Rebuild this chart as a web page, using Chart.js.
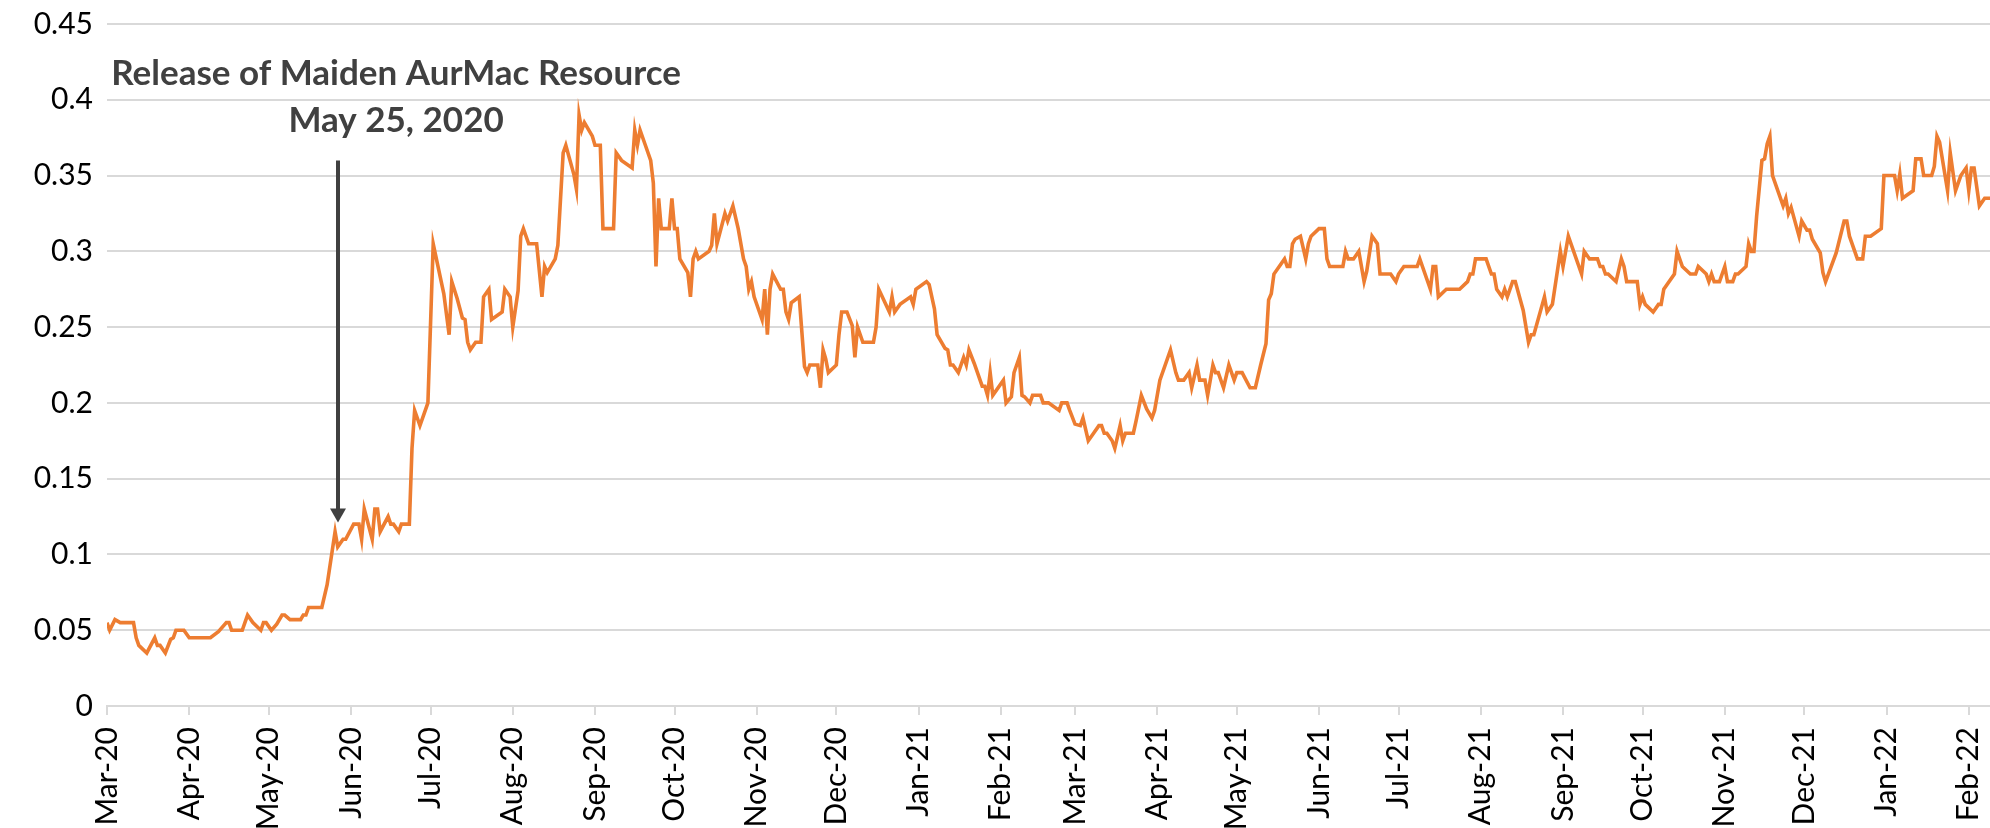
<!DOCTYPE html>
<html lang="en">
<head>
  <meta charset="UTF-8" />
  <title>AurMac share price</title>
  <script src="https://cdn.jsdelivr.net/npm/chart.js"></script>
  <style>
    body { margin: 0; background: #fff; }
    canvas { display: block; }
  </style>
</head>
<body>
  <canvas id="priceChart" width="1990" height="828"></canvas>

  <script>
    // days since 1 Mar 2020
    const days = [
      0, 1, 3, 5, 10, 11, 12, 15, 18, 19, 20, 22, 24, 25, 26, 29, 31, 39, 42, 45,
      46, 47, 51, 52, 53, 55, 58, 59, 60, 62, 64, 66, 67, 69, 73, 74, 75, 76, 81, 83,
      86, 87, 89, 90, 93, 95, 96, 97, 100, 101, 102, 103, 106, 107, 108, 110, 111, 114, 115, 116,
      118, 121, 123, 127, 129, 130, 132, 134, 135, 136, 137, 139, 141, 142, 144, 145, 149, 150, 152, 153,
      155, 156, 157, 159, 162, 164, 165, 166, 169, 170, 172, 173, 176, 177, 178, 179, 180, 183, 184, 186,
      187, 191, 192, 194, 198, 199, 200, 201, 203, 205, 206, 207, 208, 209, 212, 213, 214, 215, 216, 219,
      220, 221, 222, 223, 227, 228, 229, 230, 233, 234, 236, 238, 240, 241, 242, 243, 244, 247, 248, 249,
      250, 251, 254, 255, 256, 257, 258, 261, 263, 264, 265, 268, 269, 270, 271, 272, 275, 276, 277, 279,
      281, 282, 283, 285, 289, 290, 291, 295, 296, 297, 299, 303, 304, 305, 309, 310, 312, 313, 316, 317,
      318, 319, 321, 323, 324, 325, 327, 330, 331, 332, 333, 334, 338, 339, 341, 342, 343, 344, 345, 346,
      348, 349, 352, 353, 355, 359, 360, 362, 363, 365, 367, 368, 370, 372, 374, 375, 376, 377, 379, 380,
      382, 383, 384, 387, 388, 390, 392, 394, 395, 397, 401, 403, 404, 406, 408, 409, 411, 412, 414, 415,
      417, 418, 419, 421, 423, 425, 426, 428, 431, 433, 435, 437, 438, 439, 440, 442, 444, 445, 446, 447,
      448, 450, 452, 453, 454, 457, 459, 460, 461, 466, 467, 468, 470, 472, 474, 475, 477, 479, 480, 484,
      486, 487, 489, 494, 495, 499, 500, 501, 502, 505, 510, 513, 514, 515, 516, 520, 522, 523, 524, 526,
      527, 528, 530, 531, 534, 536, 537, 538, 542, 543, 545, 548, 549, 551, 556, 557, 559, 562, 563, 564,
      565, 566, 569, 571, 572, 573, 577, 578, 579, 580, 583, 585, 586, 587, 591, 592, 594, 597, 599, 600,
      603, 604, 605, 606, 608, 610, 611, 613, 614, 615, 618, 619, 620, 621, 622, 624, 625, 626, 627, 628,
      632, 633, 634, 635, 638, 639, 641, 642, 643, 646, 647, 648, 652, 655, 656, 657, 660, 662, 663, 665,
      669, 670, 674, 675, 676, 677, 681, 682, 684, 685, 688, 689, 690, 691, 694, 695, 697, 699, 701, 702,
      703, 704, 706, 708, 710
    ];

    const prices = [
      0.055, 0.050, 0.057, 0.055, 0.055, 0.045, 0.040, 0.035, 0.045, 0.040, 0.040, 0.035, 0.044, 0.045, 0.050, 0.050, 0.045, 0.045, 0.049, 0.055,
      0.055, 0.050, 0.050, 0.055, 0.060, 0.055, 0.050, 0.055, 0.055, 0.050, 0.054, 0.060, 0.060, 0.057, 0.057, 0.060, 0.060, 0.065, 0.065, 0.080,
      0.115, 0.105, 0.110, 0.110, 0.120, 0.120, 0.110, 0.130, 0.110, 0.130, 0.130, 0.115, 0.125, 0.120, 0.120, 0.115, 0.120, 0.120, 0.170, 0.195,
      0.185, 0.200, 0.305, 0.272, 0.245, 0.280, 0.269, 0.256, 0.255, 0.240, 0.235, 0.240, 0.240, 0.270, 0.275, 0.255, 0.260, 0.275, 0.270, 0.250,
      0.274, 0.310, 0.315, 0.305, 0.305, 0.270, 0.290, 0.286, 0.295, 0.304, 0.365, 0.370, 0.351, 0.341, 0.390, 0.380, 0.385, 0.376, 0.370, 0.370,
      0.315, 0.315, 0.365, 0.360, 0.355, 0.380, 0.370, 0.380, 0.370, 0.360, 0.345, 0.290, 0.335, 0.315, 0.315, 0.335, 0.315, 0.315, 0.295, 0.286,
      0.270, 0.295, 0.300, 0.295, 0.300, 0.304, 0.325, 0.305, 0.325, 0.320, 0.330, 0.315, 0.295, 0.290, 0.275, 0.280, 0.270, 0.255, 0.275, 0.245,
      0.275, 0.285, 0.275, 0.275, 0.260, 0.255, 0.266, 0.270, 0.224, 0.220, 0.225, 0.225, 0.210, 0.235, 0.229, 0.220, 0.225, 0.245, 0.260, 0.260,
      0.251, 0.230, 0.250, 0.240, 0.240, 0.250, 0.275, 0.260, 0.270, 0.260, 0.265, 0.270, 0.265, 0.275, 0.280, 0.278, 0.262, 0.245, 0.236, 0.235,
      0.225, 0.225, 0.220, 0.230, 0.225, 0.235, 0.226, 0.211, 0.211, 0.205, 0.220, 0.205, 0.215, 0.200, 0.204, 0.220, 0.225, 0.230, 0.205, 0.204,
      0.200, 0.205, 0.205, 0.200, 0.200, 0.195, 0.200, 0.200, 0.195, 0.186, 0.185, 0.190, 0.175, 0.180, 0.185, 0.185, 0.180, 0.180, 0.175, 0.170,
      0.185, 0.175, 0.180, 0.180, 0.188, 0.205, 0.196, 0.190, 0.195, 0.215, 0.235, 0.220, 0.215, 0.215, 0.220, 0.210, 0.225, 0.215, 0.215, 0.205,
      0.225, 0.220, 0.220, 0.210, 0.225, 0.215, 0.220, 0.220, 0.210, 0.210, 0.225, 0.239, 0.268, 0.272, 0.285, 0.290, 0.295, 0.290, 0.290, 0.305,
      0.308, 0.310, 0.295, 0.305, 0.310, 0.315, 0.315, 0.295, 0.290, 0.290, 0.300, 0.295, 0.295, 0.300, 0.280, 0.287, 0.310, 0.305, 0.285, 0.285,
      0.280, 0.285, 0.290, 0.290, 0.295, 0.275, 0.290, 0.290, 0.270, 0.275, 0.275, 0.280, 0.285, 0.285, 0.295, 0.295, 0.285, 0.285, 0.275, 0.270,
      0.275, 0.270, 0.280, 0.280, 0.261, 0.240, 0.245, 0.245, 0.270, 0.260, 0.265, 0.300, 0.290, 0.310, 0.285, 0.300, 0.295, 0.295, 0.290, 0.290,
      0.285, 0.285, 0.280, 0.295, 0.290, 0.280, 0.280, 0.265, 0.270, 0.265, 0.260, 0.265, 0.265, 0.275, 0.285, 0.300, 0.290, 0.285, 0.285, 0.290,
      0.285, 0.280, 0.285, 0.280, 0.280, 0.290, 0.280, 0.280, 0.285, 0.285, 0.290, 0.305, 0.300, 0.300, 0.323, 0.360, 0.361, 0.371, 0.376, 0.350,
      0.330, 0.335, 0.325, 0.329, 0.310, 0.320, 0.314, 0.314, 0.308, 0.299, 0.286, 0.280, 0.299, 0.320, 0.320, 0.310, 0.295, 0.295, 0.310, 0.310,
      0.315, 0.350, 0.350, 0.340, 0.351, 0.335, 0.340, 0.361, 0.361, 0.350, 0.350, 0.356, 0.376, 0.372, 0.340, 0.365, 0.340, 0.350, 0.355, 0.340,
      0.355, 0.355, 0.330, 0.335, 0.335
    ];

    const monthLabels = [
      'Mar-20', 'Apr-20', 'May-20', 'Jun-20', 'Jul-20', 'Aug-20', 'Sep-20', 'Oct-20', 'Nov-20', 'Dec-20', 'Jan-21', 'Feb-21',
      'Mar-21', 'Apr-21', 'May-21', 'Jun-21', 'Jul-21', 'Aug-21', 'Sep-21', 'Oct-21', 'Nov-21', 'Dec-21', 'Jan-22', 'Feb-22'
    ];
    const yTickLabels = ['0', '0.05', '0.1', '0.15', '0.2', '0.25', '0.3', '0.35', '0.4', '0.45'];

    const noteLines = ['Release of Maiden AurMac Resource', 'May 25, 2020'];
    const arrowDay = 87;

    // first day of every month, as an offset from 1 Mar 2020
    const monthDays = monthLabels.map((m, i) => (Date.UTC(2020, 2 + i, 1) - Date.UTC(2020, 2, 1)) / 86400000);

    const points = days.map((d, i) => ({ x: d, y: prices[i] }));

    const notePlugin = {
      id: 'note',
      afterDatasetsDraw(chart) {
        const c = chart.ctx;
        const xs = chart.scales.x;
        const ys = chart.scales.y;

        c.save();
        c.fillStyle = '#404040';
        c.strokeStyle = '#404040';
        c.font = 'bold 35px Lato';
        c.textAlign = 'center';
        c.textBaseline = 'alphabetic';
        c.fillText(noteLines[0], xs.getPixelForValue(109), ys.getPixelForValue(0.41));
        c.fillText(noteLines[1], xs.getPixelForValue(109), ys.getPixelForValue(0.379));

        const ax = Math.round(xs.getPixelForValue(arrowDay));
        const top = ys.getPixelForValue(0.36);
        const tip = ys.getPixelForValue(0.121);
        c.lineWidth = 4;
        c.beginPath();
        c.moveTo(ax, top);
        c.lineTo(ax, tip - 12);
        c.stroke();
        c.beginPath();
        c.moveTo(ax - 8, tip - 14);
        c.lineTo(ax + 8, tip - 14);
        c.lineTo(ax, tip);
        c.closePath();
        c.fill();
        c.restore();
      }
    };

    new Chart(document.getElementById('priceChart'), {
      type: 'line',
      data: {
        datasets: [{
          data: points,
          borderColor: '#ED7D31',
          borderWidth: 3.6,
          pointRadius: 0,
          tension: 0,
          fill: false
        }]
      },
      options: {
        responsive: false,
        devicePixelRatio: 1,
        animation: false,
        layout: { padding: { top: 24, right: 0, bottom: 0, left: 0 } },
        plugins: {
          legend: { display: false },
          tooltip: { enabled: false }
        },
        scales: {
          x: {
            type: 'linear',
            min: 0,
            max: 710,
            afterBuildTicks: (scale) => {
              scale.ticks = monthDays.map(v => ({ value: v }));
            },
            afterFit: (scale) => {
              scale.height = 122;
              scale.paddingLeft = 0;
              scale.paddingRight = 0;
            },
            grid: {
              drawOnChartArea: false,
              drawTicks: true,
              tickLength: 9,
              color: '#d9d9d9',
              lineWidth: 2
            },
            border: { display: true, color: '#d9d9d9', width: 2 },
            ticks: {
              autoSkip: false,
              minRotation: 90,
              maxRotation: 90,
              padding: 12,
              color: '#000',
              font: { family: 'Lato', size: 30 },
              callback: (value, index) => monthLabels[index]
            }
          },
          y: {
            min: 0,
            max: 0.45,
            afterFit: (scale) => {
              scale.width = 107;
              scale.paddingTop = 0;
              scale.paddingBottom = 0;
            },
            grid: {
              color: '#d9d9d9',
              lineWidth: 2,
              drawTicks: false
            },
            border: { display: false },
            ticks: {
              stepSize: 0.05,
              padding: 14,
              color: '#000',
              font: { family: 'Lato', size: 30 },
              callback: (value, index) => yTickLabels[index]
            }
          }
        }
      },
      plugins: [notePlugin]
    });
  </script>
</body>
</html>
